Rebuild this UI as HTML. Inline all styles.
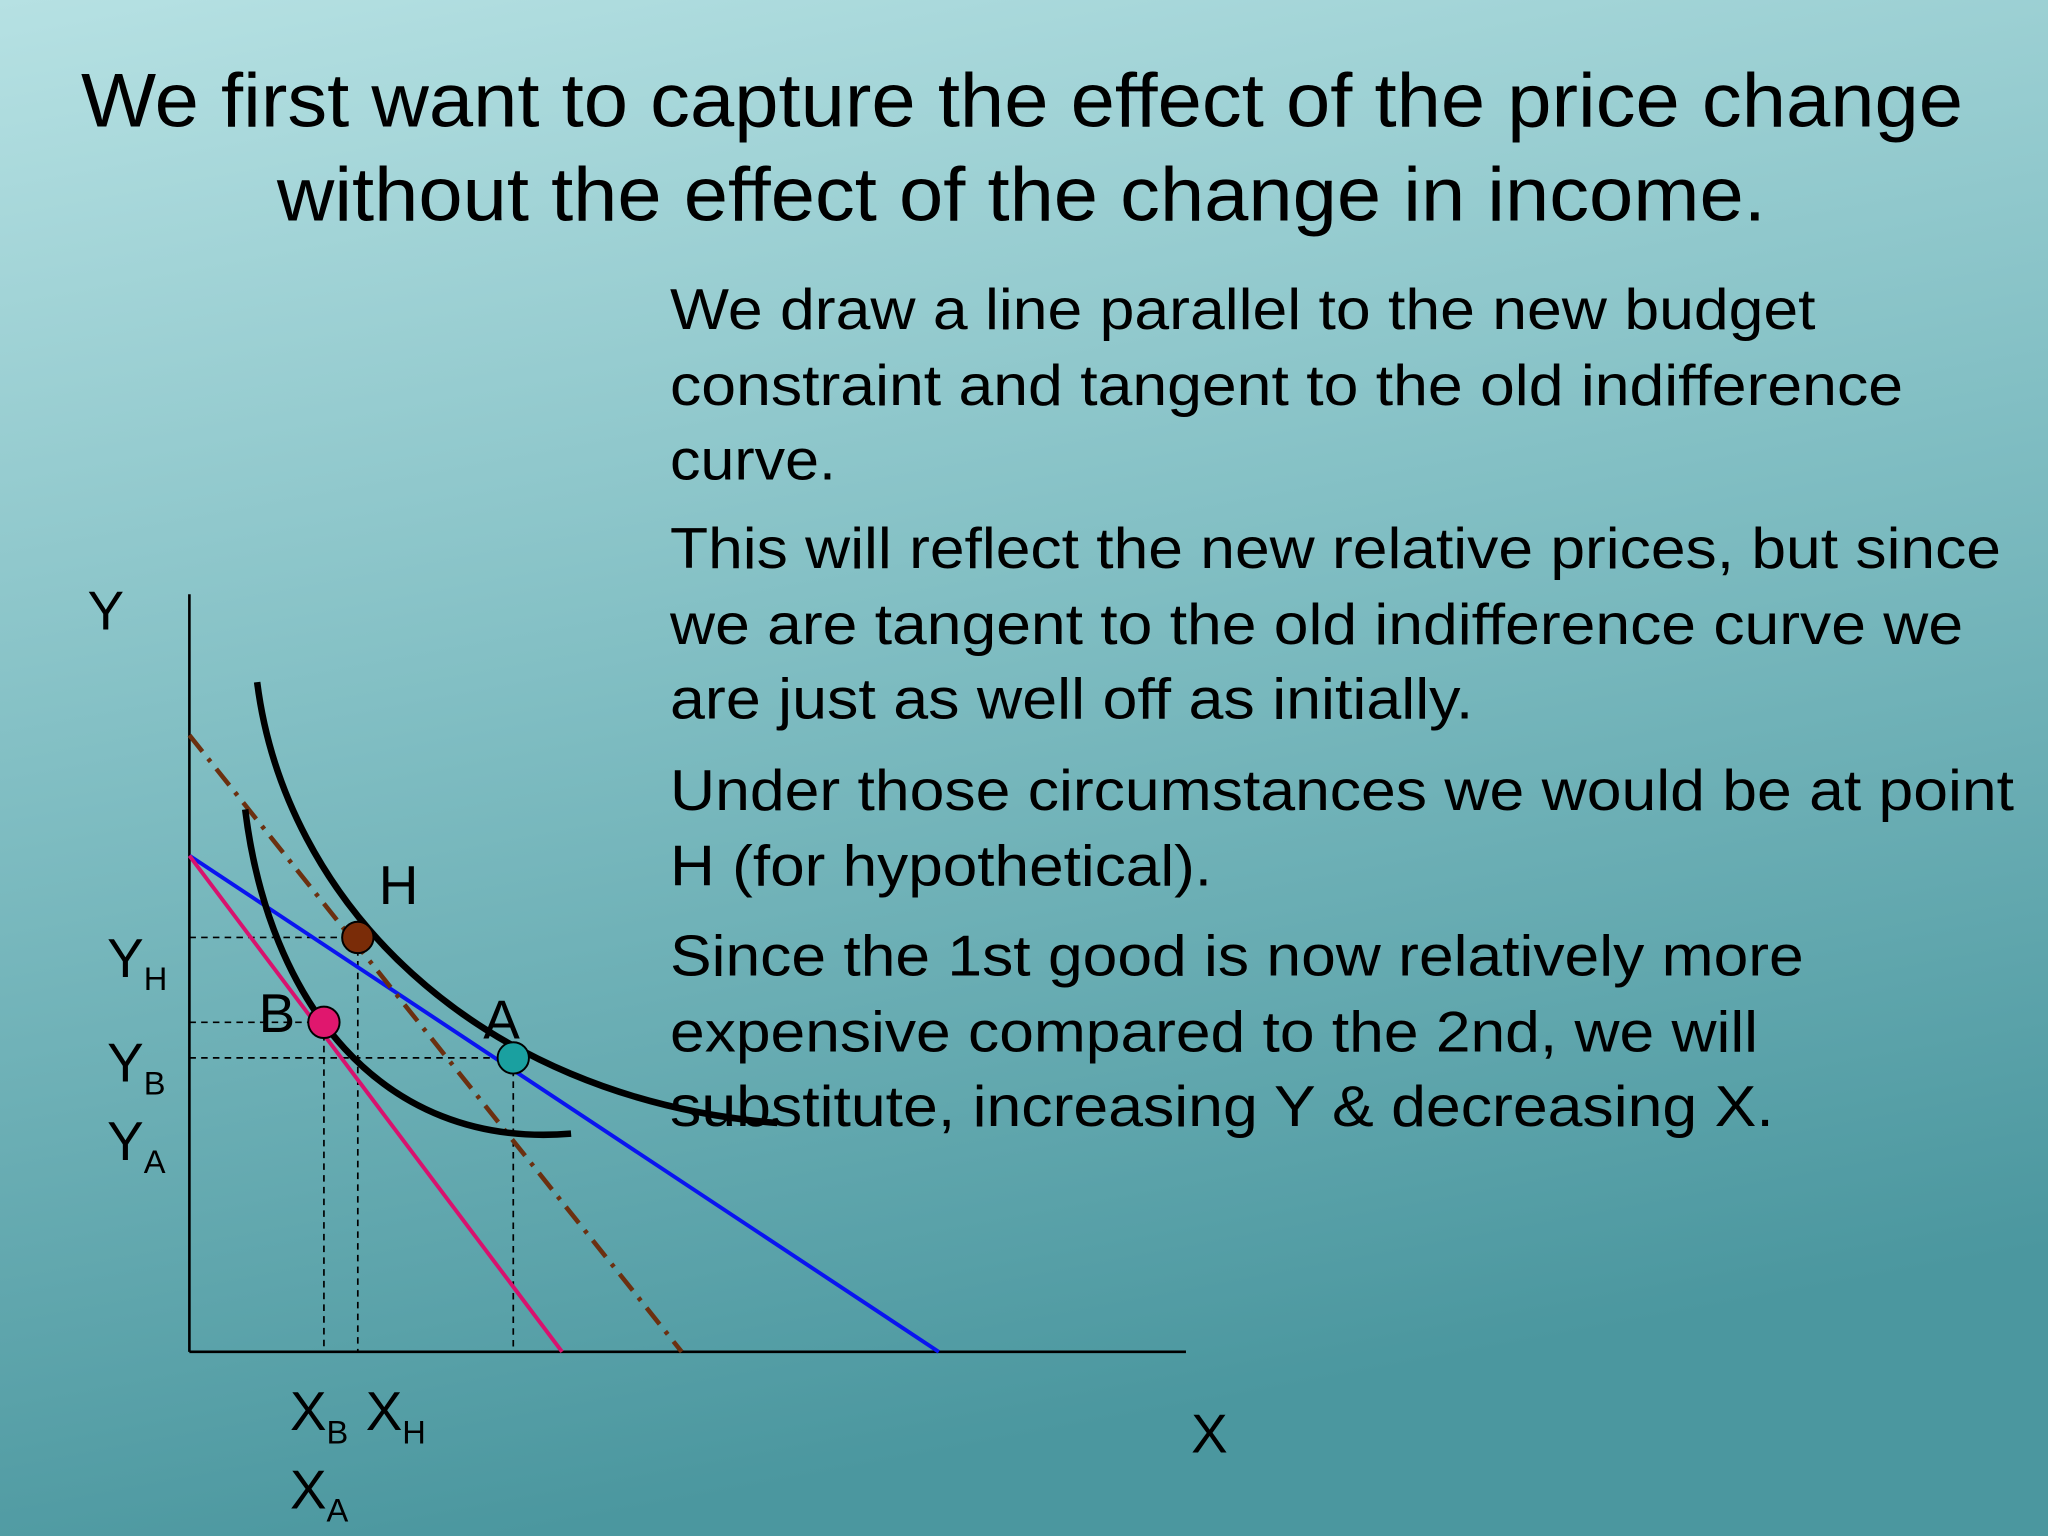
<!DOCTYPE html>
<html><head><meta charset="utf-8"><style>
html,body{margin:0;padding:0;width:2048px;height:1536px;overflow:hidden}
svg{display:block}
text{font-family:"Liberation Sans",sans-serif;fill:#000}
</style></head><body>
<svg id="s" width="2048" height="1536" viewBox="0 0 1568 1176">
<defs><linearGradient id="bg" x1="0" y1="0" x2="0.25" y2="1">
<stop offset="0" stop-color="#b6e1e3"/><stop offset="0.5" stop-color="#7fbdc2"/><stop offset="1" stop-color="#4b979f"/></linearGradient></defs>
<rect width="1568" height="1176" fill="url(#bg)"/>
<g font-size="58">
<text x="62" y="97" textLength="1441" lengthAdjust="spacingAndGlyphs">We first want to capture the effect of the price change</text>
<text x="212" y="169" textLength="1140" lengthAdjust="spacingAndGlyphs">without the effect of the change in income.</text>
</g>
<g font-size="44">
<text x="513" y="252" textLength="877" lengthAdjust="spacingAndGlyphs">We draw a line parallel to the new budget</text>
<text x="513" y="310" textLength="944" lengthAdjust="spacingAndGlyphs">constraint and tangent to the old indifference</text>
<text x="513" y="367" textLength="127" lengthAdjust="spacingAndGlyphs">curve.</text>
<text x="513" y="435" textLength="1019" lengthAdjust="spacingAndGlyphs">This will reflect the new relative prices, but since</text>
<text x="513" y="493" textLength="990" lengthAdjust="spacingAndGlyphs">we are tangent to the old indifference curve we</text>
<text x="513" y="550" textLength="615" lengthAdjust="spacingAndGlyphs">are just as well off as initially.</text>
<text x="513" y="620" textLength="1029" lengthAdjust="spacingAndGlyphs">Under those circumstances we would be at point</text>
<text x="513" y="678" textLength="415" lengthAdjust="spacingAndGlyphs">H (for hypothetical).</text>
<text x="513" y="747" textLength="868" lengthAdjust="spacingAndGlyphs">Since the 1st good is now relatively more</text>
<text x="513" y="805" textLength="833" lengthAdjust="spacingAndGlyphs">expensive compared to the 2nd, we will</text>
<text x="513" y="862" textLength="845" lengthAdjust="spacingAndGlyphs">substitute, increasing Y &amp; decreasing X.</text>
</g>
<g id="chart"></g>
</svg>
<script>
const blueLine=[[0,6.55],[7.52,0]];
const pinkLine=[[0,6.55],[3.74,0]];
const compLine=[[0,8.14],[4.94,0]];
// cubic bezier definitions (start, control1, control2, end) in data units
const outerCurve=[[0.68,8.84],[0.95,6.0],[2.82,3.36],[5.9,3.02]];
const innerCurve=[[0.56,7.16],[0.79,4.66],[1.90,2.67],[3.83,2.88]];
const pointH=[1.69,5.47];
const pointB=[1.35,4.35];
const pointA=[3.25,3.88];
const sx=v=>145+v*76.3, sy=v=>1035-v*58;
const g=document.getElementById('chart');
const NS='http://www.w3.org/2000/svg';
function mk(tag,attrs,name){const e=document.createElementNS(NS,tag);for(const k in attrs)e.setAttribute(k,attrs[k]);


g.appendChild(e);return e;}
function line(p,st,name){return mk('line',Object.assign({x1:sx(p[0][0]),y1:sy(p[0][1]),x2:sx(p[1][0]),y2:sy(p[1][1])},st),name);}
function bez(c){const P=c.map(p=>sx(p[0])+','+sy(p[1]));return 'M'+P[0]+' C'+P[1]+' '+P[2]+' '+P[3];}
const dash={stroke:'#000','stroke-width':1.3,'stroke-dasharray':'5,4'};
[[pointH,'h'],[pointB,'b'],[pointA,'a']].forEach(([p,n])=>{
mk('line',Object.assign({x1:sx(0),y1:sy(p[1]),x2:sx(p[0]),y2:sy(p[1])},dash),'guide-y-'+n);
mk('line',Object.assign({x1:sx(p[0]),y1:sy(p[1]),x2:sx(p[0]),y2:sy(0)},dash),'guide-x-'+n);});
mk('line',{x1:145,y1:455,x2:145,y2:1035,stroke:'#000','stroke-width':2},'y-axis');
mk('line',{x1:145,y1:1035,x2:908,y2:1035,stroke:'#000','stroke-width':2},'x-axis');
line(blueLine,{stroke:'#0a14f0','stroke-width':3},'old-budget-line');
line(pinkLine,{stroke:'#d8126e','stroke-width':3},'new-budget-line');
line(compLine,{stroke:'#6b3010','stroke-width':3.5,'stroke-dasharray':'16,7,3,7'},'compensated-budget-line');
mk('path',{d:bez(outerCurve),fill:'none',stroke:'#000','stroke-width':5},'old-indifference-curve');
mk('path',{d:bez(innerCurve),fill:'none',stroke:'#000','stroke-width':5},'new-indifference-curve');
mk('circle',{cx:sx(pointH[0]),cy:sy(pointH[1]),r:12,fill:'#7a2c08',stroke:'#000','stroke-width':1.5},'point-h');
mk('circle',{cx:sx(pointB[0]),cy:sy(pointB[1]),r:12,fill:'#e0176e',stroke:'#000','stroke-width':1.5},'point-b');
mk('circle',{cx:sx(pointA[0]),cy:sy(pointA[1]),r:12,fill:'#1aa0a0',stroke:'#000','stroke-width':1.5},'point-a');
function txt(x,y,s,sub,name){const t=mk('text',{x:x,y:y,'font-size':42},name);t.textContent=s;
if(sub){const ts=document.createElementNS(NS,'tspan');ts.setAttribute('font-size','25');ts.setAttribute('dy','10');ts.textContent=sub;t.appendChild(ts);}}
txt(67,482,'Y','','y-axis-title');
txt(912,1112,'X','','x-axis-title');
txt(290,692,'H','','label-h');
txt(198,790,'B','','label-b');
txt(370,795,'A','','label-a');
txt(82,748,'Y','H','tick-yh');
txt(82,828,'Y','B','tick-yb');
txt(82,888,'Y','A','tick-ya');
txt(222,1095,'X','B','tick-xb');
txt(280,1095,'X','H','tick-xh');
txt(222,1155,'X','A','tick-xa');
</script>
</body></html>
